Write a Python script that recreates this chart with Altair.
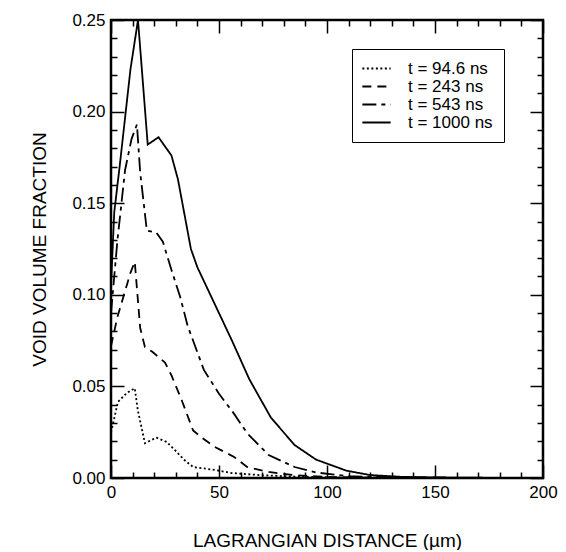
import altair as alt
import pandas as pd

# ---- data ----
series_labels = ["t = 94.6 ns", "t = 243 ns", "t = 543 ns", "t = 1000 ns"]

x_94 = [0, 1, 3.2, 7.4, 11, 12.4, 15.7, 21, 25.8, 29.5, 34, 38, 48, 56, 70, 85, 100, 120, 150, 200]
y_94 = [0.025, 0.030, 0.0415, 0.0465, 0.049, 0.037, 0.019, 0.022, 0.0197, 0.0153, 0.0098, 0.006,
        0.0044, 0.0027, 0.0015, 0.0008, 0.0004, 0.0002, 0.0001, 0.0]

x_243 = [0, 3, 6, 9, 11, 13.5, 15.7, 19, 25, 28, 32.7, 38, 42, 48, 57, 63, 73, 85, 100, 120, 200]
y_243 = [0.072, 0.088, 0.100, 0.112, 0.118, 0.082, 0.0715, 0.069, 0.063, 0.056, 0.0426, 0.026,
         0.022, 0.017, 0.0115, 0.006, 0.0033, 0.0015, 0.0006, 0.0002, 0.0]

x_543 = [0, 3, 6.5, 9.5, 12, 13.5, 16.6, 21, 24, 28, 32, 35.5, 43, 50, 57, 63, 73, 85, 95, 110, 130, 160, 200]
y_543 = [0.090, 0.130, 0.168, 0.185, 0.193, 0.167, 0.135, 0.134, 0.129, 0.1135, 0.099, 0.083,
         0.059, 0.046, 0.035, 0.0245, 0.0125, 0.006, 0.003, 0.001, 0.0003, 0.0001, 0.0]

x_1000 = [0, 1.5, 4, 9, 12.5, 17, 22, 28, 31, 37, 40, 50, 56, 64, 74, 85, 95, 109, 120, 135, 150, 175, 200]
y_1000 = [0.105, 0.145, 0.170, 0.223, 0.250, 0.182, 0.186, 0.176, 0.163, 0.125, 0.115, 0.090,
          0.075, 0.054, 0.033, 0.018, 0.010, 0.004, 0.0016, 0.0006, 0.0003, 0.0001, 0.0]

# tick positions (every 10 um / every 0.01; labelled every 50 um / every 0.05)
x_ticks = list(range(0, 201, 10))
y_ticks = [round(i * 0.01, 2) for i in range(0, 26)]

rows = []
for lab, xs, ys in zip(series_labels, [x_94, x_243, x_543, x_1000], [y_94, y_243, y_543, y_1000]):
    for xv, yv in zip(xs, ys):
        rows.append({"series": lab, "x": xv, "y": yv})
df = pd.DataFrame(rows)

W, H = 432, 458
FONT = "Liberation Sans"

x_major_test = "datum.value % 50 === 0"
y_major_test = "round(datum.value * 100) % 5 === 0"
# negative tick size -> ticks point into the plot
x_tick_size = alt.ExprRef(f"{x_major_test} ? -13 : -6")
y_tick_size = alt.ExprRef(f"{y_major_test} ? -13 : -6")

x_scale = alt.Scale(domain=[0, 200], nice=False, zero=False)
y_scale = alt.Scale(domain=[0, 0.25], nice=False, zero=False)

common = dict(grid=False, domain=False, ticks=True, tickColor="black", tickWidth=1.5,
              labelOverlap=False, labelFlush=False)

x_axis = alt.Axis(values=x_ticks, format="d", tickSize=x_tick_size,
                  labelExpr=f"{x_major_test} ? datum.label : ''",
                  title="LAGRANGIAN DISTANCE (µm)", labelFontSize=17, titleFontSize=19,
                  labelPadding=19, titlePadding=24, labelFont=FONT, titleFont=FONT,
                  labelColor="black", titleColor="black", titleFontWeight="normal", **common)
y_axis = alt.Axis(values=y_ticks, format=".2f", tickSize=y_tick_size,
                  labelExpr=f"{y_major_test} ? datum.label : ''",
                  title="VOID VOLUME FRACTION", labelFontSize=17, titleFontSize=19,
                  labelPadding=19, titlePadding=22, labelFont=FONT, titleFont=FONT,
                  labelColor="black", titleColor="black", titleFontWeight="normal", **common)

x_axis_top = alt.Axis(orient="top", values=x_ticks, tickSize=x_tick_size, labels=False,
                      title=None, **common)
y_axis_right = alt.Axis(orient="right", values=y_ticks, tickSize=y_tick_size, labels=False,
                        title=None, **common)

dashes = [[2, 2.5], [9, 6], [14, 5, 4, 5], [1, 0]]

lines = alt.Chart(df).mark_line(color="black", strokeWidth=1.8, clip=True).encode(
    x=alt.X("x:Q", scale=x_scale, axis=x_axis),
    y=alt.Y("y:Q", scale=y_scale, axis=y_axis),
    strokeDash=alt.StrokeDash("series:N",
                              scale=alt.Scale(domain=series_labels, range=dashes),
                              legend=alt.Legend(title=None, orient="none", legendX=241, legendY=29,
                                                symbolType="M-2,0L2,0", symbolSize=200,
                                                symbolStrokeWidth=1.8, symbolStrokeColor="black",
                                                symbolOffset=5,
                                                labelFontSize=17, labelFont=FONT, labelColor="black",
                                                labelOffset=23, rowPadding=0, padding=11,
                                                strokeColor="black")),
)

mirror = alt.Chart(df).mark_point(opacity=0).encode(
    x=alt.X("x:Q", scale=x_scale, axis=x_axis_top),
    y=alt.Y("y:Q", scale=y_scale, axis=y_axis_right),
)

chart = alt.layer(lines, mirror).resolve_axis(x="independent", y="independent").properties(
    width=W, height=H,
    padding={"left": 103, "top": 12, "right": 15, "bottom": 72},
    autosize=alt.AutoSizeParams(type="none"),
).configure_view(stroke="black", strokeWidth=2.5)

chart.save("out.html", embed_options={"renderer": "svg", "actions": False})
